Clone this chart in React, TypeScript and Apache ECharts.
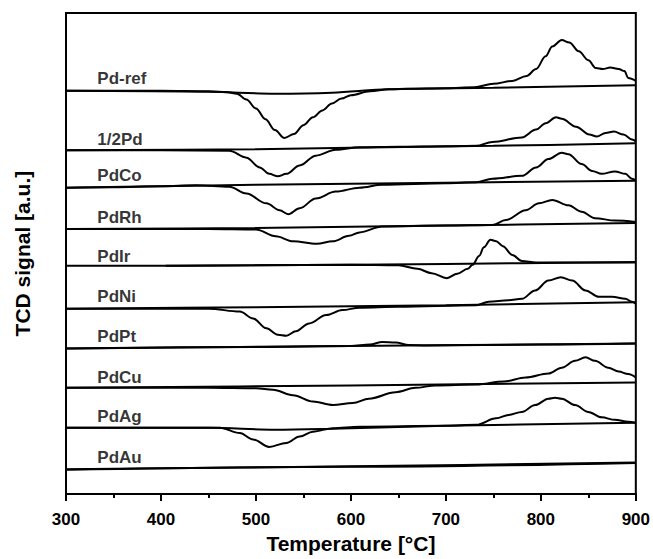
import { useEffect, useRef } from "react";
import * as echarts from "echarts";

const FONT = "'Liberation Sans', Arial, Helvetica, sans-serif";

// Sample names (top to bottom), vertical offsets of each trace, label heights above trace start
const SAMPLE_NAMES = ["Pd-ref", "1/2Pd", "PdCo", "PdRh", "PdIr", "PdNi", "PdPt", "PdCu", "PdAg", "PdAu"];
const SAMPLE_OFFSETS = [410, 349.5, 311.5, 269.5, 232, 188.5, 148, 108, 67.5, 24.7];
const LABEL_RISE = [12, 11, 12.5, 11.5, 10, 12, 12, 11, 11, 12.5];
const LABEL_T = 333;

// Temperature axis ticks
const X_MIN = 300;
const X_MAX = 900;
const X_STEP = 100;

// Heating traces (temperature, TCD signal relative to the trace start)
const PDREF_T = [300, 400, 450, 470, 480, 490, 500, 510, 520, 530, 540, 550, 560, 570, 580, 590, 600, 620, 640, 660, 700, 730, 750, 770, 785, 795, 805, 812, 822, 830, 840, 850, 858, 865, 873, 882, 888, 892, 900];
const PDREF_S = [0, 0, -0.5, -1.5, -3, -9, -18, -29, -40, -48, -44, -35, -27, -20, -13, -8, -4.5, -0.5, 1.5, 2, 2.5, 3.5, 7, 10, 15, 22, 35, 45, 51.5, 49, 40, 31, 23, 22, 23.5, 22, 20, 13, 10];

const HALFPD_T = [300, 400, 472, 490, 504, 514, 523, 532, 546, 563, 584, 609, 650, 700, 732, 749, 780, 795, 805, 816, 822, 837, 851, 859, 868, 877, 887, 896, 900];
const HALFPD_S = [0, 0, -0.5, -7.5, -17.5, -24, -26.5, -24, -15.5, -5.5, 0.5, 3, 3.5, 4, 4.5, 8.5, 13, 21, 27.5, 33.5, 32, 24, 16, 14, 17.5, 19, 16, 11, 9];

const PDCO_T = [300, 350, 400, 437, 472, 490, 511, 525, 534, 546, 563, 584, 609, 633, 700, 732, 749, 780, 795, 808, 822, 829, 843, 854, 864, 878, 889, 896, 900];
const PDCO_S = [0, 0.5, 1.5, 2.5, 1, -6, -16, -23, -27, -21, -11, -4, 0, 3, 4.5, 5.5, 9, 12, 20.5, 29, 35.5, 34, 24, 17, 14, 16.5, 14, 9, 7];

const PDRH_T = [300, 450, 500, 521, 539, 564, 581, 598, 609, 633, 700, 749, 763, 784, 798, 812, 829, 843, 857, 878, 900];
const PDRH_S = [0, 0, -0.5, -7.5, -12.5, -15, -12.5, -7, -3.5, 2.5, 3.5, 4, 9, 19, 26, 29.5, 24, 17.5, 11, 8.5, 7];

const PDIR_T = [405, 500, 600, 650, 670, 685, 701, 712, 723, 728, 735, 740, 747, 753, 760, 770, 780, 795, 850, 900];
const PDIR_S = [0, 0.5, 1, 0.5, -3, -7.5, -12.5, -8, -3, 1, 10, 19, 26.5, 25, 20, 11, 5, 3.5, 3.5, 3.5];

const PDNI_T = [300, 450, 483, 497, 511, 523, 532, 542, 556, 574, 591, 609, 650, 732, 745, 766, 780, 794, 808, 821, 833, 847, 861, 875, 889, 896, 900];
const PDNI_S = [0, 0, -3, -10, -20, -26.5, -27.5, -23, -15, -6.5, -1.5, 1, 2, 3.5, 7, 8.5, 10, 18.5, 28.5, 32, 28.5, 18.5, 12, 12, 10, 7, 5];

const PDPT_T = [300, 500, 600, 620, 633, 647, 661, 680, 800, 900];
const PDPT_S = [0, 1.5, 2.5, 4, 6.5, 6, 3.5, 3, 4, 5];

const PDCU_T = [300, 450, 500, 518, 539, 560, 581, 602, 619, 647, 668, 689, 732, 761, 784, 808, 822, 836, 847, 857, 871, 882, 892, 900];
const PDCU_S = [0, 0, -0.5, -2, -7.5, -14, -17.5, -15.5, -11, -4.5, 0, 2.5, 3.5, 6.5, 10.5, 14.5, 20.5, 27.5, 31, 27.5, 20.5, 16.5, 14, 10.5];

const PDAG_T = [300, 440, 462, 483, 497, 514, 532, 546, 560, 581, 609, 700, 732, 753, 766, 780, 794, 808, 815, 822, 836, 850, 864, 878, 892, 900];
const PDAG_S = [0, 0, 0, -5.5, -12, -19.5, -15.5, -9, -4, -0.5, 1, 2, 3, 9.5, 13, 16, 23, 29.5, 30.5, 29.5, 23, 16, 10.5, 8, 6, 5];

const PDAU_T = [300, 600, 900];
const PDAU_S = [0, 3, 7];

// Baseline (second, nearly flat) traces
const PDREF_BT = [300, 450, 520, 580, 640, 750, 900];
const PDREF_BS = [0, -1, -3, -2, 1.5, 3, 5.5];
const HALFPD_BT = [300, 500, 600, 750, 900];
const HALFPD_BS = [0, 1, 2.5, 4.5, 7];
const PDCO_BT = [300, 400, 500, 650, 900];
const PDCO_BS = [0, 1.5, 3, 4.5, 7];
const PDRH_BT = [300, 500, 700, 900];
const PDRH_BS = [0, 1, 3.5, 6];
const PDIR_BT = [300, 500, 700, 900];
const PDIR_BS = [0, 0.5, 2, 4];
const PDNI_BT = [300, 500, 700, 900];
const PDNI_BS = [0, 1.5, 3.5, 6.5];
const PDPT_BT = [300, 600, 900];
const PDPT_BS = [0, 2.5, 5];
const PDCU_BT = [300, 600, 900];
const PDCU_BS = [0, 2.5, 5.5];
const PDAG_BT = [300, 450, 520, 580, 700, 900];
const PDAG_BS = [0, 0, -2, -1, 2, 5];
const PDAU_BT = [300, 600, 900];
const PDAU_BS = [0.5, 3.5, 7.5];

const TRACES = [
  [PDREF_T, PDREF_S, PDREF_BT, PDREF_BS],
  [HALFPD_T, HALFPD_S, HALFPD_BT, HALFPD_BS],
  [PDCO_T, PDCO_S, PDCO_BT, PDCO_BS],
  [PDRH_T, PDRH_S, PDRH_BT, PDRH_BS],
  [PDIR_T, PDIR_S, PDIR_BT, PDIR_BS],
  [PDNI_T, PDNI_S, PDNI_BT, PDNI_BS],
  [PDPT_T, PDPT_S, PDPT_BT, PDPT_BS],
  [PDCU_T, PDCU_S, PDCU_BT, PDCU_BS],
  [PDAG_T, PDAG_S, PDAG_BT, PDAG_BS],
  [PDAU_T, PDAU_S, PDAU_BT, PDAU_BS],
];

export default function App() {
  const ref = useRef<HTMLDivElement>(null);

  useEffect(() => {
    if (!ref.current) return;
    const chart = echarts.init(ref.current, null, { renderer: "svg" });

    const lineStyle = { color: "#000", width: 2 };
    const series: any[] = [];
    TRACES.forEach((tr, i) => {
      const off = SAMPLE_OFFSETS[i];
      const [t, s, bt, bs] = tr;
      series.push({
        type: "line",
        name: SAMPLE_NAMES[i],
        data: t.map((x, k) => [x, off + s[k]]),
        symbol: "none",
        smooth: 0.35,
        smoothMonotone: "x",
        lineStyle,
        silent: true,
      });
      series.push({
        type: "line",
        name: SAMPLE_NAMES[i] + " baseline",
        data: bt.map((x, k) => [x, off + bs[k]]),
        symbol: "none",
        smooth: 0.35,
        lineStyle,
        silent: true,
      });
    });
    series.push({
      type: "scatter",
      symbolSize: 0,
      silent: true,
      data: SAMPLE_NAMES.map((n, i) => ({ name: n, value: [LABEL_T, SAMPLE_OFFSETS[i] + LABEL_RISE[i]] })),
      label: {
        show: true,
        position: "right",
        distance: 0,
        formatter: "{b}",
        color: "#000",
        fontFamily: FONT,
        fontWeight: "bold",
        fontSize: 17,
      },
    });

    chart.setOption({
      animation: false,
      backgroundColor: "#fff",
      grid: {
        left: 66,
        right: 16,
        top: 13,
        bottom: 57,
        show: true,
        borderColor: "#000",
        borderWidth: 2,
        backgroundColor: "transparent",
      },
      xAxis: {
        type: "value",
        min: X_MIN,
        max: X_MAX,
        interval: X_STEP,
        axisLine: { show: true, onZero: false, lineStyle: { color: "#000", width: 2 } },
        axisTick: { show: true, inside: false, length: 7, lineStyle: { color: "#000", width: 2 } },
        minorTick: { show: true, splitNumber: 2, length: 4, lineStyle: { color: "#000", width: 2 } },
        splitLine: { show: false },
        axisLabel: { color: "#000", fontFamily: FONT, fontWeight: "bold", fontSize: 17, margin: 17 },
        name: "Temperature [°C]",
        nameLocation: "middle",
        nameGap: 35,
        nameTextStyle: { color: "#000", fontFamily: FONT, fontWeight: "bold", fontSize: 21 },
      },
      yAxis: {
        type: "value",
        min: 0,
        max: 489,
        axisLine: { show: true, onZero: false, lineStyle: { color: "#000", width: 2 } },
        axisTick: { show: false },
        axisLabel: { show: false },
        splitLine: { show: false },
        name: "TCD signal [a.u.]",
        nameLocation: "middle",
        nameGap: 33,
        nameTextStyle: { color: "#000", fontFamily: FONT, fontWeight: "bold", fontSize: 21 },
      },
      series,
    });

    return () => chart.dispose();
  }, []);

  return (
    <div
      ref={ref}
      style={{ position: "fixed", left: 0, top: 0, width: 653, height: 559, background: "#fff" }}
    />
  );
}
